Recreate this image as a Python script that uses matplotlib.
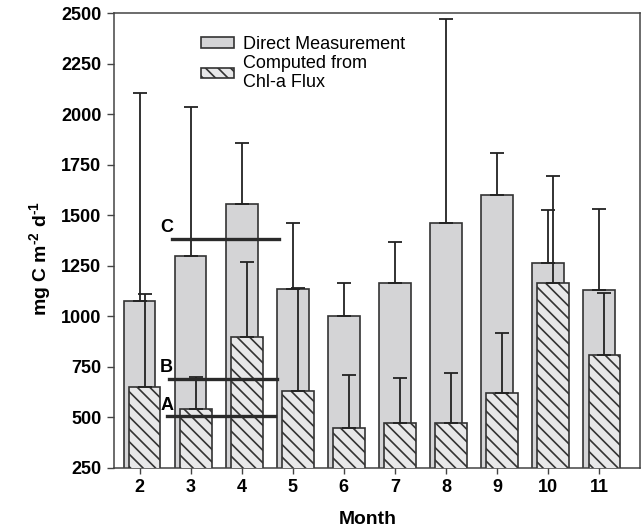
import matplotlib
matplotlib.use("Agg")
import matplotlib.pyplot as plt
from matplotlib.patches import Patch

# render at 150 dpi so the hatch spacing comes out like the original;
# S converts the "100 dpi" sizes used below into points
DPI = 150
S = 100 / DPI

plt.rcParams['font.family'] = ['Liberation Sans', 'DejaVu Sans']
plt.rcParams['mathtext.fontset'] = 'custom'
plt.rcParams['mathtext.rm'] = 'Liberation Sans:bold'
plt.rcParams['mathtext.bf'] = 'Liberation Sans:bold'
plt.rcParams['mathtext.default'] = 'rm'
plt.rcParams['hatch.linewidth'] = 1.2 * S
plt.rcParams['hatch.color'] = '#1a1a1a'

# data
months = [2, 3, 4, 5, 6, 7, 8, 9, 10, 11]
direct = [1075, 1300, 1555, 1135, 1000, 1165, 1460, 1600, 1265, 1130]
direct_err = [1030, 735, 305, 325, 165, 205, 1010, 210, 260, 400]
chla = [650, 540, 900, 630, 450, 475, 475, 620, 1165, 810]
chla_err = [460, 162, 370, 510, 260, 220, 245, 300, 530, 305]

# reference levels A, B, C
ref_labels = ['A', 'B', 'C']
ref_values = [505, 690, 1385]
ref_start = [2.53, 2.58, 2.63]
ref_end = [4.65, 4.69, 4.74]

grey = '#d4d4d6'
light = '#e8e8e9'
edge = '#333333'
hatch = '\\' * 4
width = 0.62
shift = 0.1

fig = plt.figure(figsize=(644 / DPI, 530 / DPI), dpi=DPI)
ax = fig.add_axes([0.177, 0.117, 0.817, 0.858])

ax.bar(months, direct, width=width, color=grey, edgecolor=edge, linewidth=1.2 * S, zorder=2)
ax.errorbar(months, direct, yerr=[[0] * len(direct), direct_err], fmt='none',
            ecolor='#222222', elinewidth=1.3 * S, capsize=5 * S, capthick=1.3 * S, zorder=3)

xs = [m + shift for m in months]
ax.bar(xs, chla, width=width, color=light, edgecolor=edge, linewidth=1.2 * S,
       hatch=hatch, zorder=4)
ax.errorbar(xs, chla, yerr=[[0] * len(chla), chla_err], fmt='none',
            ecolor='#222222', elinewidth=1.3 * S, capsize=5 * S, capthick=1.3 * S, zorder=5)

# the A/B/C letters sit in one column left of the lines
for lab, v, x0, x1 in zip(ref_labels, ref_values, ref_start, ref_end):
    ax.plot([x0, x1], [v, v], color='#2a2a2a', linewidth=2.4 * S, zorder=6)
    ax.text(min(ref_start), v + 55, lab, fontsize=13 * S, fontweight='bold',
            ha='center', va='center', zorder=7)

ax.set_xlim(1.5, 11.8)
ax.set_ylim(250, 2500)
ax.set_xticks(months)
ax.set_yticks(range(250, 2501, 250))
ax.tick_params(axis='both', direction='out', labelsize=13 * S, width=1 * S,
               color='#444444', pad=4 * S)
ax.tick_params(axis='y', length=5 * S)
ax.tick_params(axis='x', length=4 * S)
for t in ax.get_xticklabels() + ax.get_yticklabels():
    t.set_fontweight('bold')
for s in ax.spines.values():
    s.set_color('#444444')
    s.set_linewidth(1.1 * S)

ax.set_xlabel('Month', fontsize=14 * S, fontweight='bold')
ax.set_ylabel('mg C m$^{\\text{-2}}$ d$^{\\text{-1}}$', fontsize=14 * S, fontweight='bold')
ax.xaxis.set_label_coords(0.483, -0.095)
ax.yaxis.set_label_coords(-0.116, 0.46)

handles = [Patch(facecolor=grey, edgecolor=edge, linewidth=1.2 * S),
           Patch(facecolor=light, edgecolor=edge, linewidth=1.2 * S, hatch=hatch)]
ax.legend(handles, ['Direct Measurement', 'Computed from\nChl-a Flux'],
          loc='upper left', bbox_to_anchor=(0.166, 0.95), frameon=False,
          fontsize=13 * S, handlelength=1.8, handleheight=0.5, handletextpad=0.5,
          labelspacing=0.1, borderpad=0, borderaxespad=0)

fig.savefig('out.png', dpi=DPI)
